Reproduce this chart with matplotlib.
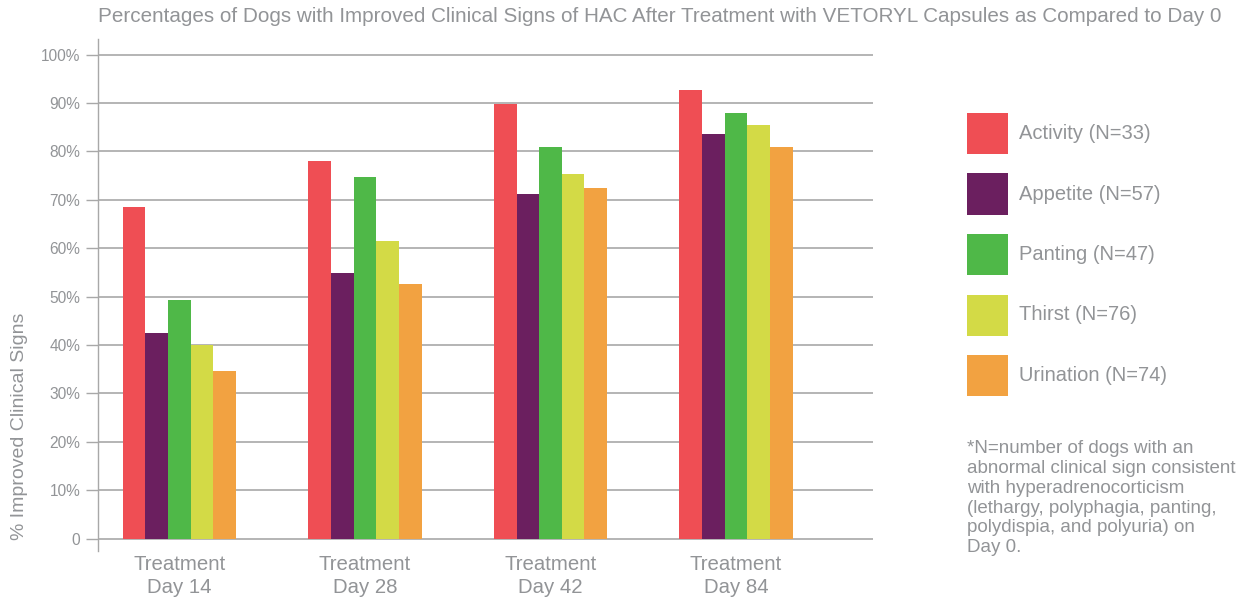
import matplotlib.pyplot as plt
from matplotlib.patches import Rectangle
import numpy as np

plt.rcParams['font.family'] = ['Liberation Sans', 'DejaVu Sans']

groups = ['Treatment\nDay 14', 'Treatment\nDay 28', 'Treatment\nDay 42', 'Treatment\nDay 84']
series_names = ['Activity (N=33)', 'Appetite (N=57)', 'Panting (N=47)', 'Thirst (N=76)', 'Urination (N=74)']
activity = [68.6, 78.1, 89.8, 92.7]
appetite = [42.5, 54.9, 71.2, 83.7]
panting = [49.4, 74.8, 81.0, 87.9]
thirst = [40.0, 61.6, 75.4, 85.5]
urination = [34.7, 52.7, 72.5, 81.0]
y_ticks = [0, 10, 20, 30, 40, 50, 60, 70, 80, 90, 100]
y_ticklabels = ['0'] + ['%d%%' % v for v in y_ticks[1:]]

colors = ['#ef4e54', '#6b1f5f', '#4fb848', '#d3da46', '#f2a241']
gray = '#929497'
grid_gray = '#a8a8a8'

title = 'Percentages of Dogs with Improved Clinical Signs of HAC After Treatment with VETORYL Capsules as Compared to Day 0'
note = ('*N=number of dogs with an\nabnormal clinical sign consistent\nwith hyperadrenocorticism\n'
        '(lethargy, polyphagia, panting,\npolydispia, and polyuria) on\nDay 0.')

W, H = 1247, 602
fig = plt.figure(figsize=(W / 100, H / 100), dpi=100)
ax = fig.add_axes([98 / W, 1 - 550.7 / H, (872.7 - 98) / W, (550.7 - 39) / H])

x = np.arange(len(groups))
width = 0.122
all_series = [activity, appetite, panting, thirst, urination]
for i, (vals, c) in enumerate(zip(all_series, colors)):
    ax.bar(x + (i - 2) * width, vals, width, color=c, zorder=3, linewidth=0)

ax.set_xlim(-0.439, 3.737)
ax.set_ylim(-2.48, 103.24)
ax.set_yticks(y_ticks)
ax.set_yticklabels(y_ticklabels)
ax.set_xticks(x)
ax.set_xticklabels(groups, fontsize=14.7, color=gray, linespacing=1.25)
ax.tick_params(axis='x', length=0, pad=3)
ax.tick_params(axis='y', length=8.6, width=1.0, color=grid_gray, labelsize=11.2,
               labelcolor=gray, pad=4)
ax.yaxis.grid(True, color=grid_gray, linewidth=1.2, zorder=0)
for s in ['top', 'right', 'bottom']:
    ax.spines[s].set_visible(False)
ax.spines['left'].set_color(grid_gray)
ax.spines['left'].set_linewidth(1.0)
ax.set_ylabel('% Improved Clinical Signs', fontsize=14, color=gray)
ax.yaxis.set_label_coords(-0.091, 0.243)

fig.text(660 / W, 1 - 16 / H, title, ha='center', va='center', fontsize=14.9, color=gray)

# legend drawn by hand
for i, (name, c) in enumerate(zip(series_names, colors)):
    top = 113 + i * 60.5
    fig.add_artist(Rectangle((967 / W, 1 - (top + 41) / H), 41 / W, 41 / H,
                             transform=fig.transFigure, color=c, linewidth=0))
    fig.text(1019 / W, 1 - (top + 20.5) / H, name, ha='left', va='center',
             fontsize=14.5, color=gray)

fig.text(967 / W, 1 - 440 / H, note, ha='left', va='top', fontsize=13.5,
         color=gray, linespacing=1.22)

fig.savefig('out.png', dpi=100)
